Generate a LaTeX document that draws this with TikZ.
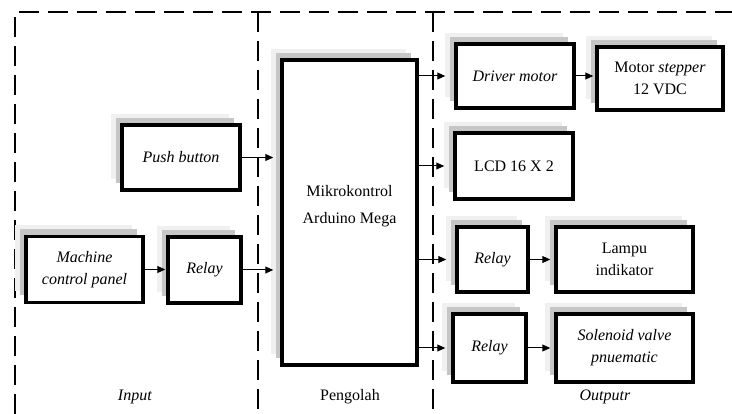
\documentclass[tikz,border=0pt]{standalone}
\usepackage{fontspec}
\setmainfont{Liberation Serif}
\usetikzlibrary{arrows.meta,shadows}
\begin{document}
\begin{tikzpicture}[x=1pt,y=-1pt]
\tikzset{
 blk/.style={draw, line width=3.5pt, fill=white, align=center, inner sep=2pt,
   font=\fontsize{16}{22}\selectfont,
   general shadow={shadow xshift=-11pt, shadow yshift=11pt, fill=gray!12},
   general shadow={shadow xshift=-6pt, shadow yshift=7pt, fill=gray!45}},
 arr/.style={-{Triangle[length=8pt,width=7pt]}, line width=1pt},
 frame/.style={line width=2pt, dash pattern=on 20pt off 9pt},
 lbl/.style={font=\fontsize{16}{18}\selectfont}
}
\useasboundingbox[fill=white] (0,0) rectangle (732,414);
% frame
\draw[frame] (15,414) -- (15,12) -- (732,12);
\draw[frame] (258,12) -- (258,414);
\draw[frame] (433,12) -- (433,414);
% blocks
\node[blk, minimum width=118pt, minimum height=65pt] (pb) at (181,157.5) {\textit{Push button}};
\node[blk, minimum width=117pt, minimum height=66pt] (mcp) at (84.5,269.5) {\textit{Machine}\\\textit{control panel}};
\node[blk, minimum width=73pt, minimum height=66pt] (rin) at (204.5,270) {\textit{Relay}};
\node[blk, minimum width=135pt, minimum height=305pt, font=\fontsize{16}{27}\selectfont, text depth=17pt] (ard) at (349.5,212.5) {Mikrokontrol\\Arduino Mega};
\node[blk, minimum width=118pt, minimum height=64pt] (dm) at (515,76) {\textit{Driver motor}};
\node[blk, minimum width=126pt, minimum height=63pt] (ms) at (660,78.5) {Motor \textit{stepper}\\12 VDC};
\node[blk, minimum width=118pt, minimum height=66pt] (lcd) at (514,166) {LCD 16 X 2};
\node[blk, minimum width=71pt, minimum height=65pt] (ro1) at (492.5,259.5) {\textit{Relay}};
\node[blk, minimum width=137pt, minimum height=65pt] (lmp) at (624.5,259.5) {Lampu\\indikator};
\node[blk, minimum width=73pt, minimum height=68pt] (ro2) at (489.5,348) {\textit{Relay}};
\node[blk, minimum width=137pt, minimum height=68pt] (sol) at (624.5,348) {\textit{Solenoid valve}\\\textit{pnuematic}};
% labels
\node[lbl] (lin) at (135,397) {\textit{Input}};
\node[lbl] (lpr) at (350,397) {Pengolah};
\node[lbl] (lout) at (605,397) {\textit{Outputr}};
% arrows
\draw[arr, shorten >=7pt] (pb.east) -- (pb.east -| ard.west);
\draw[arr, shorten >=1pt] (mcp.east) -- (mcp.east -| rin.west);
\draw[arr, shorten >=7pt] (rin.east) -- (rin.east -| ard.west);
\draw[arr, shorten >=9pt] (dm.west -| ard.east) -- (dm.west);
\draw[arr, shorten >=9pt] (lcd.west -| ard.east) -- (lcd.west);
\draw[arr, shorten >=9pt] (ro1.west -| ard.east) -- (ro1.west);
\draw[arr, shorten >=6pt] (ro2.west -| ard.east) -- (ro2.west);
\draw[arr, shorten >=2pt] (dm.east) -- (dm.east -| ms.west);
\draw[arr, shorten >=4pt] (ro1.east) -- (ro1.east -| lmp.west);
\draw[arr, shorten >=4pt] (ro2.east) -- (ro2.east -| sol.west);
\end{tikzpicture}
\end{document}
